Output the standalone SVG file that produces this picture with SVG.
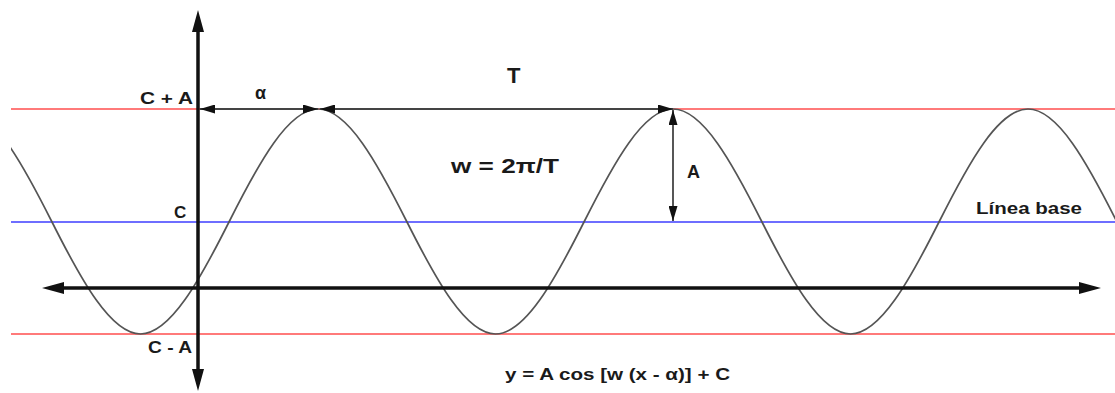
<svg xmlns="http://www.w3.org/2000/svg" width="1115" height="393" viewBox="0 0 1115 393">
<style>
.lbl{font-family:"Liberation Sans",Arial,sans-serif;font-weight:bold;fill:#1a1a1a}
.ref{stroke-width:2;fill:none}
.red{stroke:#ff7a7a}
.blue{stroke:#6e6eff}
.dim{stroke:#444;stroke-width:1.8;fill:none}
.axis{stroke:#111;stroke-width:3.5;fill:none}
</style>
<defs>
<marker id="ah" markerUnits="userSpaceOnUse" markerWidth="15" markerHeight="9" refX="15" refY="4.5" orient="auto-start-reverse" viewBox="0 0 15 9">
<path d="M0,0 L15,4.5 L0,9 z" fill="#111"/>
</marker>
<marker id="axh" markerUnits="userSpaceOnUse" markerWidth="22" markerHeight="12" refX="8" refY="6" orient="auto-start-reverse" viewBox="0 0 22 12">
<path d="M0,0 L22,6 L0,12 z" fill="#111"/>
</marker>
<clipPath id="cc"><rect x="11" y="0" width="1104" height="393"/></clipPath>
</defs>
<rect width="1115" height="393" fill="#fff"/>
<g id="reference-lines">
<line class="ref red" x1="11" y1="109" x2="1115" y2="109"/>
<line class="ref blue" x1="11" y1="222" x2="1115" y2="222"/>
<line class="ref red" x1="11" y1="334" x2="1115" y2="334"/>
</g>
<g id="curve">
<path clip-path="url(#cc)" fill="none" stroke="#555" stroke-width="1.7" d="M -37,109 C -7.42,109 22.17,162.59 51.75,221.5 C 81.33,280.41 110.92,334 140.5,334 C 170.08,334 199.67,280.41 229.25,221.5 C 258.83,162.59 288.42,109 318,109 C 347.58,109 377.17,162.59 406.75,221.5 C 436.33,280.41 465.92,334 495.5,334 C 525.08,334 554.67,280.41 584.25,221.5 C 613.83,162.59 643.42,109 673,109 C 702.58,109 732.17,162.59 761.75,221.5 C 791.33,280.41 820.92,334 850.5,334 C 880.08,334 909.67,280.41 939.25,221.5 C 968.83,162.59 998.42,109 1028,109 C 1057.58,109 1087.17,162.59 1116.75,221.5"/>
</g>
<g id="connectors">
<line class="dim" x1="200" y1="109" x2="318" y2="109" marker-start="url(#ah)" marker-end="url(#ah)"/>
<line class="dim" x1="320" y1="109" x2="673" y2="109" marker-start="url(#ah)" marker-end="url(#ah)"/>
<line class="dim" x1="673" y1="110" x2="673" y2="221" marker-start="url(#ah)" marker-end="url(#ah)"/>
</g>
<g id="axes">
<line class="axis" x1="198" y1="24" x2="198" y2="377" marker-start="url(#axh)" marker-end="url(#axh)"/>
<line class="axis" x1="56" y1="288" x2="1087" y2="288" marker-start="url(#axh)" marker-end="url(#axh)"/>
</g>
<g id="labels">
<text class="lbl" x="140" y="104" font-size="17" textLength="53" lengthAdjust="spacingAndGlyphs">C + A</text>
<text class="lbl" x="255" y="99" font-size="18">α</text>
<text class="lbl" x="507" y="83" font-size="22">T</text>
<text class="lbl" x="451" y="173" font-size="20" textLength="108" lengthAdjust="spacingAndGlyphs">w = 2π/T</text>
<text class="lbl" x="687" y="178" font-size="18">A</text>
<text class="lbl" x="174" y="218" font-size="17">C</text>
<text class="lbl" x="148" y="353" font-size="17" textLength="44" lengthAdjust="spacingAndGlyphs">C - A</text>
<text class="lbl" x="976" y="214" font-size="17" textLength="106" lengthAdjust="spacingAndGlyphs">Línea base</text>
<text class="lbl" x="505" y="380" font-size="17" textLength="225" lengthAdjust="spacingAndGlyphs">y = A cos [w (x - α)] + C</text>
</g>
</svg>
